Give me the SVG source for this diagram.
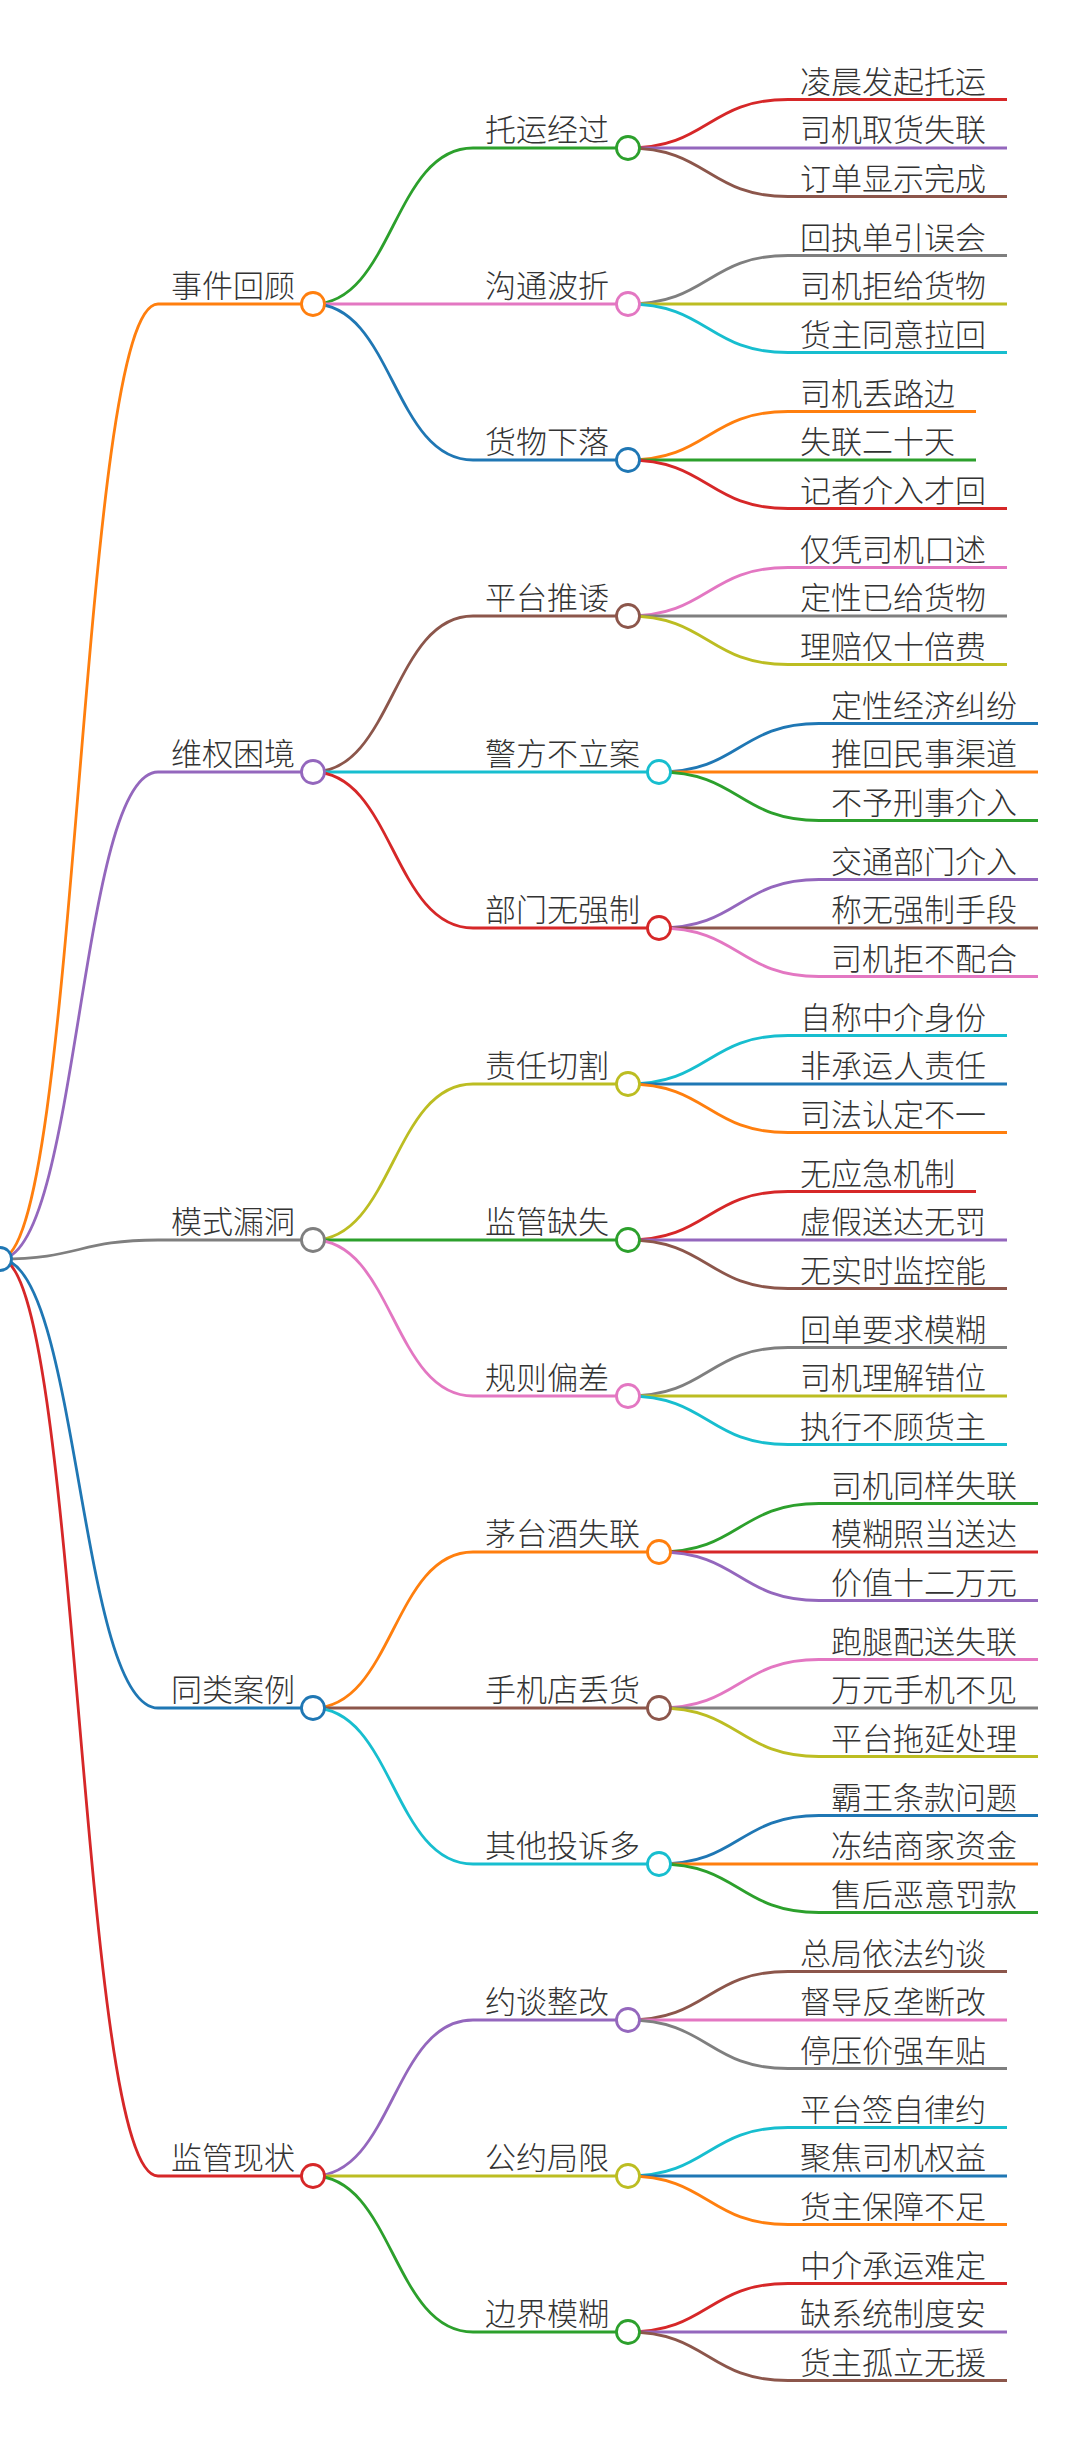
<svg xmlns="http://www.w3.org/2000/svg" width="1081" height="2439" viewBox="0 0 1081 2439">
<style>
.l{fill:none;stroke-width:2.8;stroke-linecap:butt}
.n{fill:#fff;stroke-width:2.8}
text{font-family:'Noto Sans CJK SC','Noto Sans',sans-serif;font-size:31px;fill:#333;font-weight:300}
.s0{stroke:#1f77b4}.s1{stroke:#ff7f0e}.s2{stroke:#2ca02c}.s3{stroke:#d62728}.s4{stroke:#9467bd}
.s5{stroke:#8c564b}.s6{stroke:#e377c2}.s7{stroke:#7f7f7f}.s8{stroke:#bcbd22}.s9{stroke:#17becf}
</style>
<rect width="1081" height="2439" fill="#fff"/>
<g id="links">
<path class="l s1" d="M0,1259C79,1259 79,304 158,304"/>
<path class="l s4" d="M0,1259C79,1259 79,772 158,772"/>
<path class="l s7" d="M0,1259C79,1259 79,1240 158,1240"/>
<path class="l s0" d="M0,1259C79,1259 79,1708 158,1708"/>
<path class="l s3" d="M0,1259C79,1259 79,2176 158,2176"/>

<path class="l s2" d="M313,304C393,304 393,148 473,148"/>
<path class="l s6" d="M313,304H473"/>
<path class="l s0" d="M313,304C393,304 393,460 473,460"/>
<path class="l s5" d="M313,772C393,772 393,616 473,616"/>
<path class="l s9" d="M313,772H473"/>
<path class="l s3" d="M313,772C393,772 393,928 473,928"/>
<path class="l s8" d="M313,1240C393,1240 393,1084 473,1084"/>
<path class="l s2" d="M313,1240H473"/>
<path class="l s6" d="M313,1240C393,1240 393,1396 473,1396"/>
<path class="l s1" d="M313,1708C393,1708 393,1552 473,1552"/>
<path class="l s5" d="M313,1708H473"/>
<path class="l s9" d="M313,1708C393,1708 393,1864 473,1864"/>
<path class="l s4" d="M313,2176C393,2176 393,2020 473,2020"/>
<path class="l s8" d="M313,2176H473"/>
<path class="l s2" d="M313,2176C393,2176 393,2332 473,2332"/>

<path class="l s3" d="M628,148C708,148 708,99.5 788,99.5"/>
<path class="l s4" d="M628,148H788"/>
<path class="l s5" d="M628,148C708,148 708,196.5 788,196.5"/>
<path class="l s7" d="M628,304C708,304 708,255.5 788,255.5"/>
<path class="l s8" d="M628,304H788"/>
<path class="l s9" d="M628,304C708,304 708,352.5 788,352.5"/>
<path class="l s1" d="M628,460C708,460 708,411.5 788,411.5"/>
<path class="l s2" d="M628,460H788"/>
<path class="l s3" d="M628,460C708,460 708,508.5 788,508.5"/>
<path class="l s6" d="M628,616C708,616 708,567.5 788,567.5"/>
<path class="l s7" d="M628,616H788"/>
<path class="l s8" d="M628,616C708,616 708,664.5 788,664.5"/>
<path class="l s0" d="M659,772C739,772 739,723.5 819,723.5"/>
<path class="l s1" d="M659,772H819"/>
<path class="l s2" d="M659,772C739,772 739,820.5 819,820.5"/>
<path class="l s4" d="M659,928C739,928 739,879.5 819,879.5"/>
<path class="l s5" d="M659,928H819"/>
<path class="l s6" d="M659,928C739,928 739,976.5 819,976.5"/>
<path class="l s9" d="M628,1084C708,1084 708,1035.5 788,1035.5"/>
<path class="l s0" d="M628,1084H788"/>
<path class="l s1" d="M628,1084C708,1084 708,1132.5 788,1132.5"/>
<path class="l s3" d="M628,1240C708,1240 708,1191.5 788,1191.5"/>
<path class="l s4" d="M628,1240H788"/>
<path class="l s5" d="M628,1240C708,1240 708,1288.5 788,1288.5"/>
<path class="l s7" d="M628,1396C708,1396 708,1347.5 788,1347.5"/>
<path class="l s8" d="M628,1396H788"/>
<path class="l s9" d="M628,1396C708,1396 708,1444.5 788,1444.5"/>
<path class="l s2" d="M659,1552C739,1552 739,1503.5 819,1503.5"/>
<path class="l s3" d="M659,1552H819"/>
<path class="l s4" d="M659,1552C739,1552 739,1600.5 819,1600.5"/>
<path class="l s6" d="M659,1708C739,1708 739,1659.5 819,1659.5"/>
<path class="l s7" d="M659,1708H819"/>
<path class="l s8" d="M659,1708C739,1708 739,1756.5 819,1756.5"/>
<path class="l s0" d="M659,1864C739,1864 739,1815.5 819,1815.5"/>
<path class="l s1" d="M659,1864H819"/>
<path class="l s2" d="M659,1864C739,1864 739,1912.5 819,1912.5"/>
<path class="l s5" d="M628,2020C708,2020 708,1971.5 788,1971.5"/>
<path class="l s6" d="M628,2020H788"/>
<path class="l s7" d="M628,2020C708,2020 708,2068.5 788,2068.5"/>
<path class="l s9" d="M628,2176C708,2176 708,2127.5 788,2127.5"/>
<path class="l s0" d="M628,2176H788"/>
<path class="l s1" d="M628,2176C708,2176 708,2224.5 788,2224.5"/>
<path class="l s3" d="M628,2332C708,2332 708,2283.5 788,2283.5"/>
<path class="l s4" d="M628,2332H788"/>
<path class="l s5" d="M628,2332C708,2332 708,2380.5 788,2380.5"/>
</g>

<g id="root"><circle class="n s0" cx="0" cy="1259" r="11.5"/></g>

<g id="n1"><path class="l s1" d="M158,304H313"/><circle class="n s1" cx="313" cy="304" r="11.5"/><text x="171" y="297">事件回顾</text></g>
<g id="n1-1"><path class="l s2" d="M473,148H628"/><circle class="n s2" cx="628" cy="148" r="11.5"/><text x="485" y="141">托运经过</text></g>
<g id="n1-1-1"><path class="l s3" d="M788,99.5H1007"/><text x="800" y="92.5">凌晨发起托运</text></g>
<g id="n1-1-2"><path class="l s4" d="M788,148H1007"/><text x="800" y="141">司机取货失联</text></g>
<g id="n1-1-3"><path class="l s5" d="M788,196.5H1007"/><text x="800" y="189.5">订单显示完成</text></g>
<g id="n1-2"><path class="l s6" d="M473,304H628"/><circle class="n s6" cx="628" cy="304" r="11.5"/><text x="485" y="297">沟通波折</text></g>
<g id="n1-2-1"><path class="l s7" d="M788,255.5H1007"/><text x="800" y="248.5">回执单引误会</text></g>
<g id="n1-2-2"><path class="l s8" d="M788,304H1007"/><text x="800" y="297">司机拒给货物</text></g>
<g id="n1-2-3"><path class="l s9" d="M788,352.5H1007"/><text x="800" y="345.5">货主同意拉回</text></g>
<g id="n1-3"><path class="l s0" d="M473,460H628"/><circle class="n s0" cx="628" cy="460" r="11.5"/><text x="485" y="453">货物下落</text></g>
<g id="n1-3-1"><path class="l s1" d="M788,411.5H976"/><text x="800" y="404.5">司机丢路边</text></g>
<g id="n1-3-2"><path class="l s2" d="M788,460H976"/><text x="800" y="453">失联二十天</text></g>
<g id="n1-3-3"><path class="l s3" d="M788,508.5H1007"/><text x="800" y="501.5">记者介入才回</text></g>

<g id="n2"><path class="l s4" d="M158,772H313"/><circle class="n s4" cx="313" cy="772" r="11.5"/><text x="171" y="765">维权困境</text></g>
<g id="n2-1"><path class="l s5" d="M473,616H628"/><circle class="n s5" cx="628" cy="616" r="11.5"/><text x="485" y="609">平台推诿</text></g>
<g id="n2-1-1"><path class="l s6" d="M788,567.5H1007"/><text x="800" y="560.5">仅凭司机口述</text></g>
<g id="n2-1-2"><path class="l s7" d="M788,616H1007"/><text x="800" y="609">定性已给货物</text></g>
<g id="n2-1-3"><path class="l s8" d="M788,664.5H1007"/><text x="800" y="657.5">理赔仅十倍费</text></g>
<g id="n2-2"><path class="l s9" d="M473,772H659"/><circle class="n s9" cx="659" cy="772" r="11.5"/><text x="485" y="765">警方不立案</text></g>
<g id="n2-2-1"><path class="l s0" d="M819,723.5H1038"/><text x="831" y="716.5">定性经济纠纷</text></g>
<g id="n2-2-2"><path class="l s1" d="M819,772H1038"/><text x="831" y="765">推回民事渠道</text></g>
<g id="n2-2-3"><path class="l s2" d="M819,820.5H1038"/><text x="831" y="813.5">不予刑事介入</text></g>
<g id="n2-3"><path class="l s3" d="M473,928H659"/><circle class="n s3" cx="659" cy="928" r="11.5"/><text x="485" y="921">部门无强制</text></g>
<g id="n2-3-1"><path class="l s4" d="M819,879.5H1038"/><text x="831" y="872.5">交通部门介入</text></g>
<g id="n2-3-2"><path class="l s5" d="M819,928H1038"/><text x="831" y="921">称无强制手段</text></g>
<g id="n2-3-3"><path class="l s6" d="M819,976.5H1038"/><text x="831" y="969.5">司机拒不配合</text></g>

<g id="n3"><path class="l s7" d="M158,1240H313"/><circle class="n s7" cx="313" cy="1240" r="11.5"/><text x="171" y="1233">模式漏洞</text></g>
<g id="n3-1"><path class="l s8" d="M473,1084H628"/><circle class="n s8" cx="628" cy="1084" r="11.5"/><text x="485" y="1077">责任切割</text></g>
<g id="n3-1-1"><path class="l s9" d="M788,1035.5H1007"/><text x="800" y="1028.5">自称中介身份</text></g>
<g id="n3-1-2"><path class="l s0" d="M788,1084H1007"/><text x="800" y="1077">非承运人责任</text></g>
<g id="n3-1-3"><path class="l s1" d="M788,1132.5H1007"/><text x="800" y="1125.5">司法认定不一</text></g>
<g id="n3-2"><path class="l s2" d="M473,1240H628"/><circle class="n s2" cx="628" cy="1240" r="11.5"/><text x="485" y="1233">监管缺失</text></g>
<g id="n3-2-1"><path class="l s3" d="M788,1191.5H976"/><text x="800" y="1184.5">无应急机制</text></g>
<g id="n3-2-2"><path class="l s4" d="M788,1240H1007"/><text x="800" y="1233">虚假送达无罚</text></g>
<g id="n3-2-3"><path class="l s5" d="M788,1288.5H1007"/><text x="800" y="1281.5">无实时监控能</text></g>
<g id="n3-3"><path class="l s6" d="M473,1396H628"/><circle class="n s6" cx="628" cy="1396" r="11.5"/><text x="485" y="1389">规则偏差</text></g>
<g id="n3-3-1"><path class="l s7" d="M788,1347.5H1007"/><text x="800" y="1340.5">回单要求模糊</text></g>
<g id="n3-3-2"><path class="l s8" d="M788,1396H1007"/><text x="800" y="1389">司机理解错位</text></g>
<g id="n3-3-3"><path class="l s9" d="M788,1444.5H1007"/><text x="800" y="1437.5">执行不顾货主</text></g>

<g id="n4"><path class="l s0" d="M158,1708H313"/><circle class="n s0" cx="313" cy="1708" r="11.5"/><text x="171" y="1701">同类案例</text></g>
<g id="n4-1"><path class="l s1" d="M473,1552H659"/><circle class="n s1" cx="659" cy="1552" r="11.5"/><text x="485" y="1545">茅台酒失联</text></g>
<g id="n4-1-1"><path class="l s2" d="M819,1503.5H1038"/><text x="831" y="1496.5">司机同样失联</text></g>
<g id="n4-1-2"><path class="l s3" d="M819,1552H1038"/><text x="831" y="1545">模糊照当送达</text></g>
<g id="n4-1-3"><path class="l s4" d="M819,1600.5H1038"/><text x="831" y="1593.5">价值十二万元</text></g>
<g id="n4-2"><path class="l s5" d="M473,1708H659"/><circle class="n s5" cx="659" cy="1708" r="11.5"/><text x="485" y="1701">手机店丢货</text></g>
<g id="n4-2-1"><path class="l s6" d="M819,1659.5H1038"/><text x="831" y="1652.5">跑腿配送失联</text></g>
<g id="n4-2-2"><path class="l s7" d="M819,1708H1038"/><text x="831" y="1701">万元手机不见</text></g>
<g id="n4-2-3"><path class="l s8" d="M819,1756.5H1038"/><text x="831" y="1749.5">平台拖延处理</text></g>
<g id="n4-3"><path class="l s9" d="M473,1864H659"/><circle class="n s9" cx="659" cy="1864" r="11.5"/><text x="485" y="1857">其他投诉多</text></g>
<g id="n4-3-1"><path class="l s0" d="M819,1815.5H1038"/><text x="831" y="1808.5">霸王条款问题</text></g>
<g id="n4-3-2"><path class="l s1" d="M819,1864H1038"/><text x="831" y="1857">冻结商家资金</text></g>
<g id="n4-3-3"><path class="l s2" d="M819,1912.5H1038"/><text x="831" y="1905.5">售后恶意罚款</text></g>

<g id="n5"><path class="l s3" d="M158,2176H313"/><circle class="n s3" cx="313" cy="2176" r="11.5"/><text x="171" y="2169">监管现状</text></g>
<g id="n5-1"><path class="l s4" d="M473,2020H628"/><circle class="n s4" cx="628" cy="2020" r="11.5"/><text x="485" y="2013">约谈整改</text></g>
<g id="n5-1-1"><path class="l s5" d="M788,1971.5H1007"/><text x="800" y="1964.5">总局依法约谈</text></g>
<g id="n5-1-2"><path class="l s6" d="M788,2020H1007"/><text x="800" y="2013">督导反垄断改</text></g>
<g id="n5-1-3"><path class="l s7" d="M788,2068.5H1007"/><text x="800" y="2061.5">停压价强车贴</text></g>
<g id="n5-2"><path class="l s8" d="M473,2176H628"/><circle class="n s8" cx="628" cy="2176" r="11.5"/><text x="485" y="2169">公约局限</text></g>
<g id="n5-2-1"><path class="l s9" d="M788,2127.5H1007"/><text x="800" y="2120.5">平台签自律约</text></g>
<g id="n5-2-2"><path class="l s0" d="M788,2176H1007"/><text x="800" y="2169">聚焦司机权益</text></g>
<g id="n5-2-3"><path class="l s1" d="M788,2224.5H1007"/><text x="800" y="2217.5">货主保障不足</text></g>
<g id="n5-3"><path class="l s2" d="M473,2332H628"/><circle class="n s2" cx="628" cy="2332" r="11.5"/><text x="485" y="2325">边界模糊</text></g>
<g id="n5-3-1"><path class="l s3" d="M788,2283.5H1007"/><text x="800" y="2276.5">中介承运难定</text></g>
<g id="n5-3-2"><path class="l s4" d="M788,2332H1007"/><text x="800" y="2325">缺系统制度安</text></g>
<g id="n5-3-3"><path class="l s5" d="M788,2380.5H1007"/><text x="800" y="2373.5">货主孤立无援</text></g>
</svg>
